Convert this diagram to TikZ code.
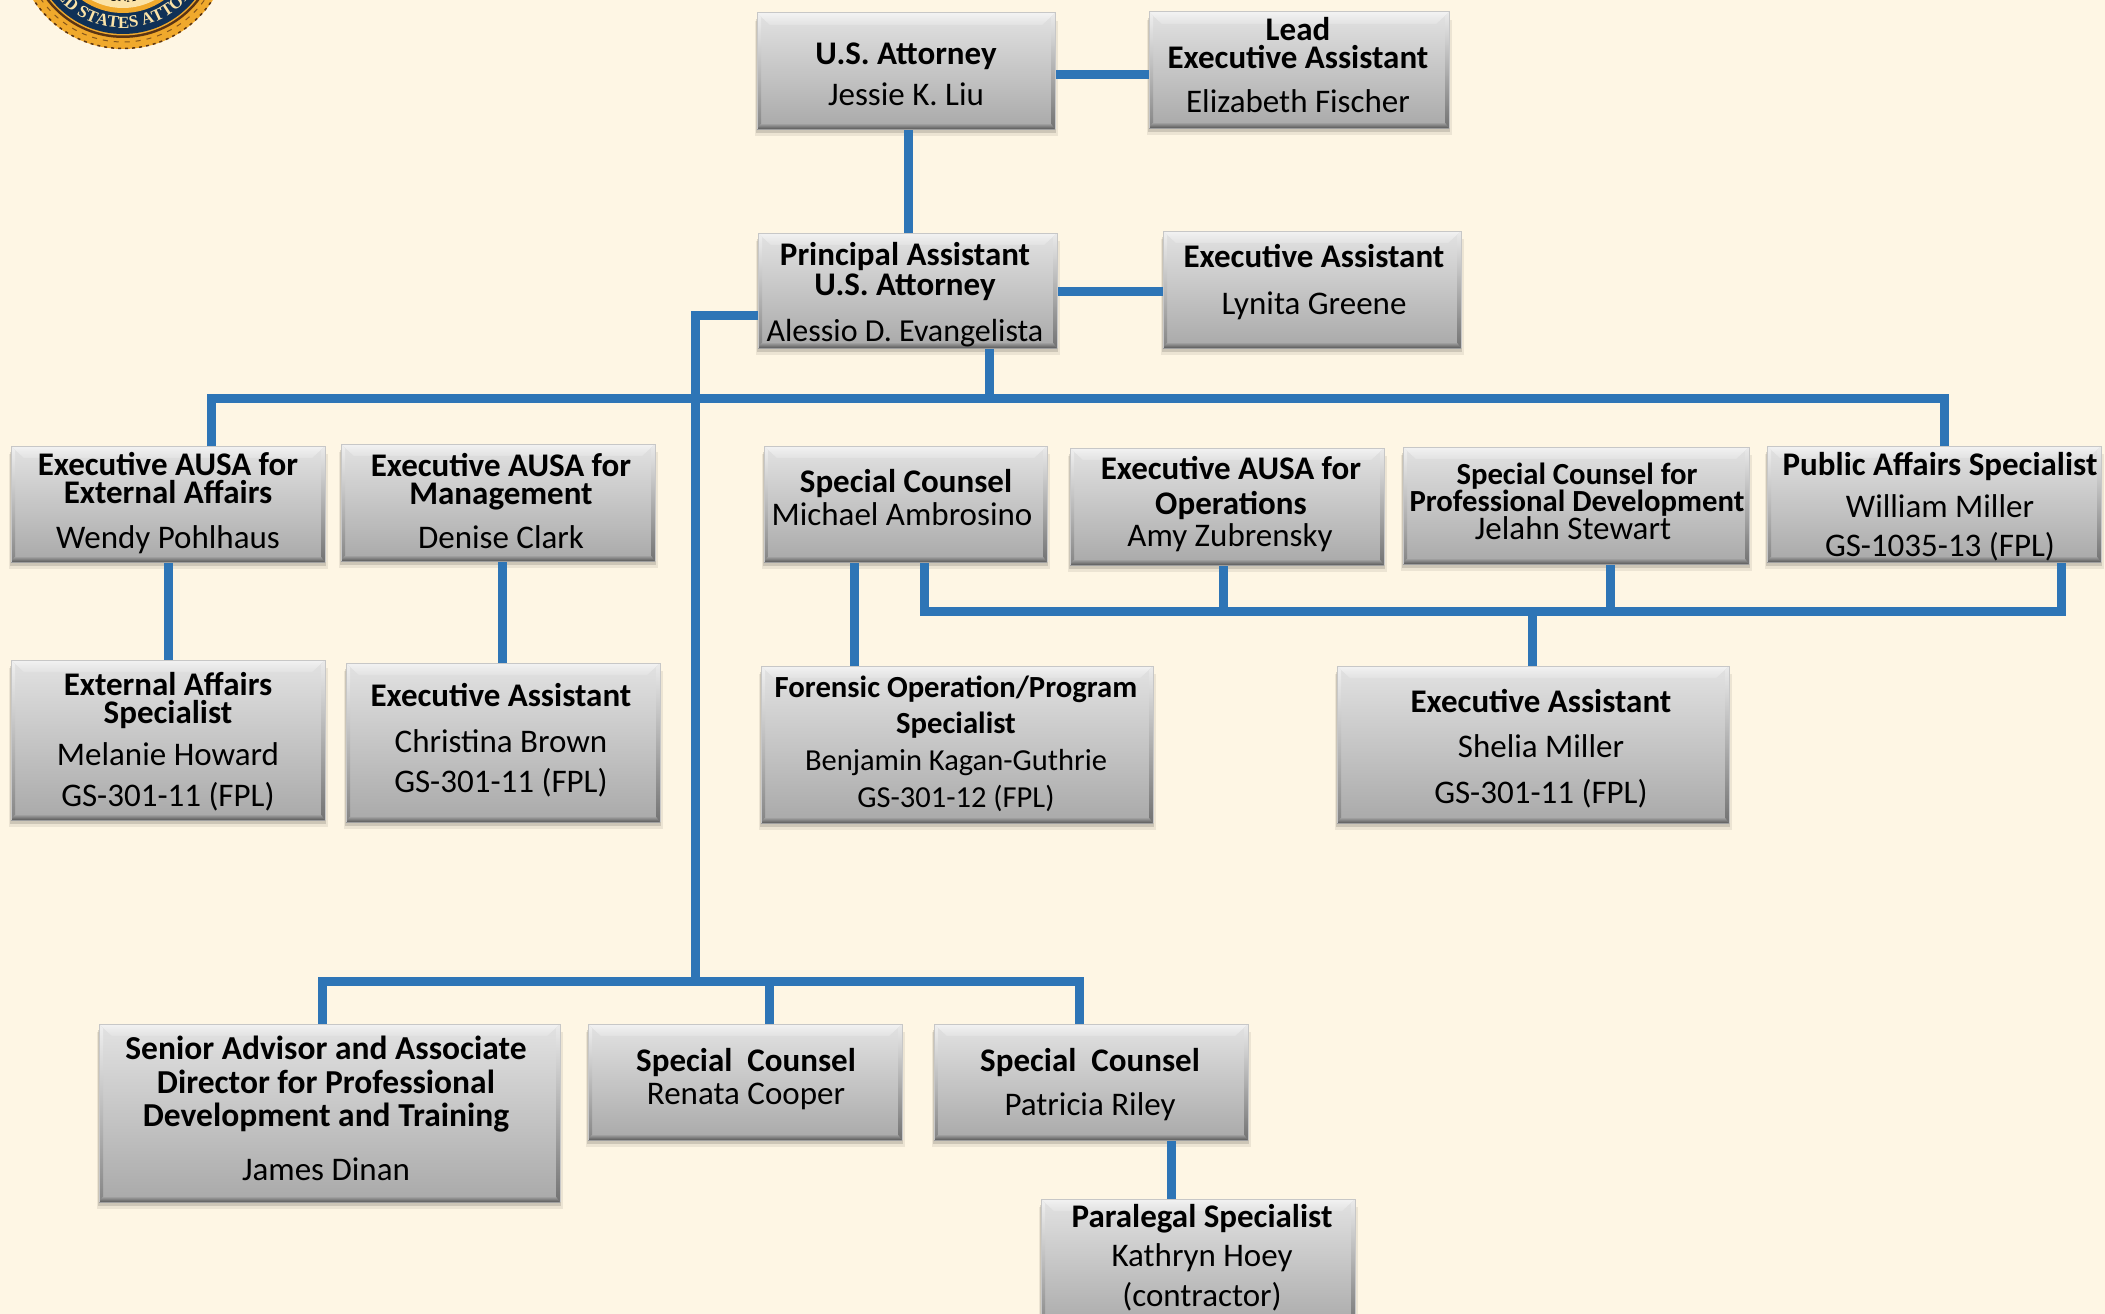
\documentclass[tikz,border=0pt]{standalone}
\usepackage{fontspec}
\setmainfont{Carlito}
\newfontfamily\sealfont{Liberation Serif}
\usetikzlibrary{backgrounds,decorations.text,calc}
\definecolor{pagebg}{HTML}{FEF6E4}
\definecolor{connblue}{HTML}{2E75B6}
\definecolor{boxtop}{HTML}{E2E2E2}
\definecolor{boxbot}{HTML}{A9A9A9}
\definecolor{sealgold}{HTML}{F0A92C}
\definecolor{sealbrown}{HTML}{5A3413}
\definecolor{sealnavy}{HTML}{0F3157}
\definecolor{sealcream}{HTML}{FBE3A8}
\newcounter{lblc}
\tikzset{
  x=1pt,y=1pt,
  orgbox/.style={rectangle,inner sep=0pt,outer sep=0pt,top color=boxtop,bottom color=boxbot},
  conn/.style={draw=connblue,line width=9pt,line cap=butt,line join=miter},
  lbl/.style={anchor=base,inner sep=0pt,outer sep=0pt,text=black,font=\fontsize{33}{33}\selectfont},
  lblb/.style={lbl,font=\fontsize{33}{33}\selectfont\bfseries},
  lblsm/.style={font=\fontsize{30.5}{30.5}\selectfont},
  lblbsm/.style={font=\fontsize{30.7}{30.7}\selectfont\bfseries},
  lblblg/.style={font=\fontsize{33.5}{33.5}\selectfont\bfseries},
}
% name, x1, y1, x2, y2 (pixels, y downwards)
\newcommand\orgbx[5]{%
  \pgfmathsetmacro\bxw{#4-#2}\pgfmathsetmacro\bxh{#5-#3}%
  \pgfmathsetmacro\bxcx{(#4+#2)/2}\pgfmathsetmacro\bxcy{-(#5+#3)/2}%
  \begin{scope}[on background layer]
    \fill[black,opacity=.07] (#2-2,-#3-8) rectangle (#4+3,-#5-7);
    \fill[black,opacity=.13] (#2-1,-#3-6) rectangle (#4+1,-#5-4);
  \end{scope}
  \node[orgbox,minimum width=\bxw pt,minimum height=\bxh pt] (#1) at (\bxcx,\bxcy) {};
  \shade[top color=black!5,bottom color=boxtop] (#1.north west) -- (#1.north east) -- ++(-13,-12) -- ($(#1.north west)+(13,-12)$) -- cycle;
  \shade[top color=black!6,bottom color=black!48] (#1.north west) -- ++(4,-4) -- ($(#1.south west)+(4,5)$) -- (#1.south west) -- cycle;
  \shade[top color=black!8,bottom color=black!55] (#1.north east) -- ++(-4,-4) -- ($(#1.south east)+(-4,5)$) -- (#1.south east) -- cycle;
  \shade[top color=black!38,bottom color=black!65] (#1.south west) -- ++(4,5) -- ($(#1.south east)+(-4,5)$) -- (#1.south east) -- cycle;
  \draw[black!22,line width=1pt] (#1.south west) -- (#1.north west) -- (#1.north east) -- (#1.south east);
}
\newcommand\linereg[4][]{\stepcounter{lblc}\node[lbl,#1] (t\arabic{lblc}) at (#2,-#3) {#4};}
\newcommand\linebold[4][]{\stepcounter{lblc}\node[lblb,#1] (t\arabic{lblc}) at (#2,-#3) {#4};}
\begin{document}
\begin{tikzpicture}
\begin{scope}[on background layer]
  \fill[pagebg] (0,-1314) rectangle (2105,0);
\end{scope}
\useasboundingbox (0,-1314) rectangle (2105,0);
% seal
\begin{scope}
  \clip (0,-1314) rectangle (2105,0);
  \coordinate (sealc) at (123,58);
  \fill[sealgold] (sealc) circle (107);
  \draw[sealbrown,line width=1.5pt,dash pattern=on 3pt off 4pt] (sealc) circle (106.5);
  \draw[sealbrown!70!sealgold,line width=1pt,dash pattern=on 5pt off 6pt] (sealc) circle (100);
  \fill[sealbrown] (sealc) circle (96);
  \fill[sealgold] (sealc) circle (93.5);
  \fill[sealnavy] (sealc) circle (92);
  \fill[sealgold] (sealc) circle (71);
  \fill[sealcream] (sealc) circle (66);
  \path[decorate,decoration={text along path,text align=center,
    text={|\sealfont\bfseries\fontsize{17}{17}\selectfont\color{sealcream}|UNITED STATES ATTORNEY}}]
    (sealc) ++(-171:86) arc (-171:-11:86);
  \path[decorate,decoration={text along path,text align=center,
    text={|\sealfont\bfseries\fontsize{13}{13}\selectfont\color{black}|IUSTITIA UNA JUSTITIA}}]
    (sealc) ++(-150:60) arc (-150:-30:60);
\end{scope}
% boxes
\orgbx{usa}{757}{13}{1055}{129}
\orgbx{lead}{1149}{12}{1449}{128}
\orgbx{pausa}{758}{233}{1057}{348}
\orgbx{lynita}{1163}{231}{1461}{348}
\orgbx{ext}{11}{446}{325}{562}
\orgbx{mgmt}{341}{444}{655}{561}
\orgbx{ambro}{764}{446}{1047}{562}
\orgbx{ops}{1070}{448}{1384}{565}
\orgbx{scpd}{1403}{447}{1749}{564}
\orgbx{pa}{1767}{446}{2101}{562}
\orgbx{extspec}{11}{660}{325}{820}
\orgbx{cbrown}{346}{663}{660}{822}
\orgbx{forensic}{761}{666}{1153}{823}
\orgbx{shelia}{1337}{666}{1729}{823}
\orgbx{senior}{99}{1024}{560}{1202}
\orgbx{renata}{588}{1024}{902}{1140}
\orgbx{patricia}{934}{1024}{1248}{1140}
\orgbx{parale}{1041}{1199}{1355}{1330}
% connector guide points
\coordinate (xa) at (908,0);
\coordinate (xb) at (989,-398);
\coordinate (xl) at (211,-398);
\coordinate (xr) at (1944,-398);
\coordinate (sp) at (695,-315);
\coordinate (spb) at (695,-981);
\coordinate (ll) at (322,-981);
\coordinate (lm) at (769,-981);
\coordinate (lr) at (1079,-981);
\coordinate (e1) at (168,0);
\coordinate (e2) at (502,0);
\coordinate (e3) at (854,0);
\coordinate (e4) at (1171,0);
\coordinate (b1) at (924,-611);
\coordinate (b2) at (1223,-611);
\coordinate (b3) at (1610,-611);
\coordinate (b4) at (2061,-611);
\coordinate (b5) at (1532,-611);
\coordinate (y1) at (0,-75);
\coordinate (y2) at (0,-291);
\begin{scope}[on background layer]
  \draw[conn] (usa.east |- y1) -- (lead.west |- y1);
  \draw[conn] (xa |- usa.south) -- (xa |- pausa.north);
  \draw[conn] (pausa.east |- y2) -- (lynita.west |- y2);
  \draw[conn] (xb |- pausa.south) -- (xb);
  \draw[conn] (xl |- ext.north) -- (xl) -- (xr) -- (xr |- pa.north);
  \draw[conn] (pausa.west |- sp) -- (sp) -- (spb);
  \draw[conn] (ll |- senior.north) -- (ll) -- (lr) -- (lr |- patricia.north);
  \draw[conn] (lm) -- (lm |- renata.north);
  \draw[conn] (e1 |- ext.south) -- (e1 |- extspec.north);
  \draw[conn] (e2 |- mgmt.south) -- (e2 |- cbrown.north);
  \draw[conn] (e3 |- ambro.south) -- (e3 |- forensic.north);
  \draw[conn] (b1 |- ambro.south) -- (b1) -- (b4) -- (b4 |- pa.south);
  \draw[conn] (b2 |- ops.south) -- (b2);
  \draw[conn] (b3 |- scpd.south) -- (b3);
  \draw[conn] (b5) -- (b5 |- shelia.north);
  \draw[conn] (e4 |- patricia.south) -- (e4 |- parale.north);
\end{scope}
% texts
\linebold{906}{65}{U.S. Attorney}
\linereg{906}{105}{Jessie K. Liu}
\linebold{1298}{41}{Lead}
\linebold{1298}{69}{Executive Assistant}
\linereg{1298}{113}{Elizabeth Fischer}
\linebold{905}{265}{Principal Assistant}
\linebold{905}{295}{U.S. Attorney}
\linereg[font=\fontsize{32}{32}\selectfont]{905}{341}{Alessio D. Evangelista}
\linebold{1314}{267}{Executive Assistant}
\linereg{1314}{314}{Lynita Greene}
\linebold{168}{475}{Executive AUSA for}
\linebold{168}{503}{External Affairs}
\linereg{168}{548}{Wendy Pohlhaus}
\linebold{501}{476}{Executive AUSA for}
\linebold{501}{504}{Management}
\linereg{501}{548}{Denise Clark}
\linebold{906}{492}{Special Counsel}
\linereg{902}{525}{Michael Ambrosino}
\linebold{1231}{479}{Executive AUSA for}
\linebold{1231}{514}{Operations}
\linereg{1230}{546}{Amy Zubrensky}
\linebold[lblbsm]{1577}{484}{Special Counsel for}
\linebold[lblbsm]{1577}{511}{Professional Development}
\linereg{1573}{539}{Jelahn Stewart}
\linebold{1940}{475}{Public Affairs Specialist}
\linereg{1940}{517}{William Miller}
\linereg{1940}{556}{GS-1035-13 (FPL)}
\linebold{168}{695}{External Affairs}
\linebold{168}{723}{Specialist}
\linereg{168}{765}{Melanie Howard}
\linereg{168}{806}{GS-301-11 (FPL)}
\linebold{501}{706}{Executive Assistant}
\linereg{501}{752}{Christina Brown}
\linereg{501}{792}{GS-301-11 (FPL)}
\linebold[lblbsm]{956}{697}{Forensic Operation/Program}
\linebold[lblbsm]{956}{733}{Specialist}
\linereg[lblsm]{956}{770}{Benjamin Kagan-Guthrie}
\linereg[lblsm]{956}{807}{GS-301-12 (FPL)}
\linebold{1541}{712}{Executive Assistant}
\linereg{1541}{757}{Shelia Miller}
\linereg{1541}{803}{GS-301-11 (FPL)}
\linebold[lblblg]{326}{1059}{Senior Advisor and Associate}
\linebold[lblblg]{326}{1093}{Director for Professional}
\linebold[lblblg]{326}{1126}{Development and Training}
\linereg{326}{1180}{James Dinan}
\linebold{746}{1071}{Special\ \ Counsel}
\linereg{746}{1104}{Renata Cooper}
\linebold{1090}{1071}{Special\ \ Counsel}
\linereg{1090}{1115}{Patricia Riley}
\linebold{1202}{1227}{Paralegal Specialist}
\linereg{1202}{1266}{Kathryn Hoey}
\linereg{1202}{1306}{(contractor)}
\end{tikzpicture}
\end{document}
